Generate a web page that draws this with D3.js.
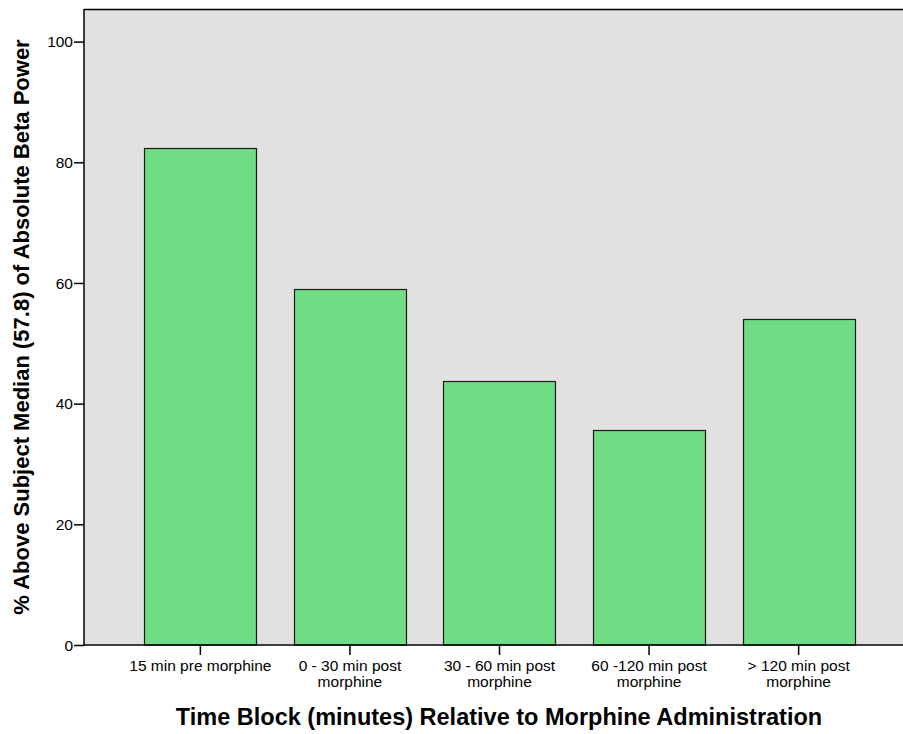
<!DOCTYPE html>
<html><head><meta charset="utf-8">
<script src="https://cdn.jsdelivr.net/npm/d3@7"></script>
<style>body{margin:0;background:#fff}svg{display:block}text{font-family:"Liberation Sans",Arial,sans-serif;fill:#000}</style>
</head><body>
<svg id="c" width="903" height="734"></svg>
<script>
const categories = [["15 min pre morphine"],["0 - 30 min post","morphine"],["30 - 60 min post","morphine"],["60 -120 min post","morphine"],["> 120 min post","morphine"]];
const values = [82.4, 59.0, 43.8, 35.7, 54.1];
const yTicks = [0,20,40,60,80,100];
const yTitle = "% Above Subject Median (57.8) of Absolute Beta Power";
const xTitle = "Time Block (minutes) Relative to Morphine Administration";

const svg = d3.select("#c");
const L = 84, R = 915, T = 9, B = 645;
const keys = categories.map((c,i)=>String(i));
const x = d3.scaleBand().domain(keys).range([L,R]).paddingInner(0.25).paddingOuter(0.403);
const y = d3.scaleLinear().domain([0,100]).range([B, B-603.4]);

svg.append("rect").attr("x",L).attr("y",T).attr("width",R-L).attr("height",B-T).attr("fill","#e1e1e1");
svg.append("line").attr("x1",L).attr("x2",R).attr("y1",T+0.5).attr("y2",T+0.5).attr("stroke","#000").attr("stroke-width",1.5);

svg.selectAll("rect.bar").data(values).enter().append("rect").attr("class","bar")
  .attr("x",(d,i)=>Math.round(x(keys[i]))+0.5).attr("width",Math.round(x.bandwidth()))
  .attr("y",d=>Math.round(y(d))+0.5).attr("height",d=>B-Math.round(y(d))-0.5)
  .attr("fill","#70dc84").attr("stroke","#1a1a1a").attr("stroke-width",1.2);

const ya = svg.append("g").attr("transform",`translate(${L},0)`)
  .call(d3.axisLeft(y).tickValues(yTicks).tickSize(10).tickPadding(1));
ya.attr("font-size",null).attr("font-family",null);
ya.select(".domain").remove();
ya.append("line").attr("x1",0).attr("x2",0).attr("y1",T).attr("y2",B).attr("stroke","#000").attr("stroke-width",1.5);
ya.selectAll(".tick line").attr("stroke","#000").attr("stroke-width",1.5);
ya.selectAll(".tick text").style("font-size","15.5px").attr("fill","#000").attr("dy","0.34em");

const xa = svg.append("g").attr("transform",`translate(0,${B})`)
  .call(d3.axisBottom(x).tickSize(10).tickFormat(""));
xa.attr("font-size",null).attr("font-family",null);
xa.select(".domain").remove();
xa.append("line").attr("x1",L).attr("x2",R).attr("y1",0).attr("y2",0).attr("stroke","#000").attr("stroke-width",1.5);
xa.selectAll(".tick line").attr("stroke","#000").attr("stroke-width",1.5);
xa.selectAll(".tick").each(function(d,i){
  const t = d3.select(this).append("text").attr("text-anchor","middle").style("font-size","15.5px").attr("fill","#000");
  categories[i].forEach((s,j)=>t.append("tspan").attr("x",0).attr("y",26+j*15.5).text(s));
});

svg.append("text").attr("transform","translate(28.5,327) rotate(-90)").attr("text-anchor","middle")
  .style("font-size","22px").attr("font-weight","bold").text(yTitle);
svg.append("text").attr("x",499).attr("y",725).attr("text-anchor","middle")
  .style("font-size","23.5px").attr("font-weight","bold").text(xTitle);
</script></body></html>
